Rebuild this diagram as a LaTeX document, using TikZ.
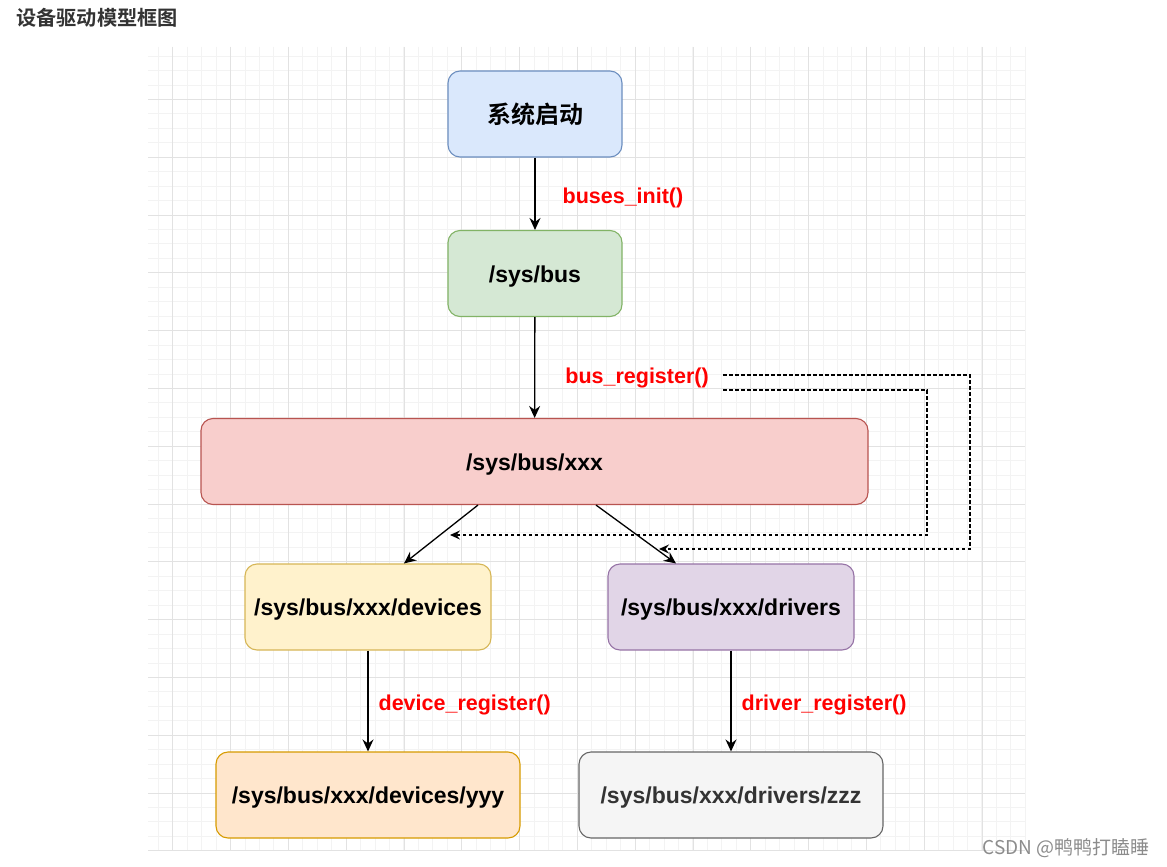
\documentclass[tikz,border=0pt]{standalone}
\usepackage{fontspec}
\setmainfont{Liberation Sans}
\newfontfamily\cjk{Noto Sans CJK SC}[BoldFont={Noto Sans CJK SC Bold}]
\usetikzlibrary{arrows.meta}
\definecolor{gridmajor}{HTML}{E2E2E2}
\definecolor{gridminor}{HTML}{F3F3F3}
\definecolor{startfill}{HTML}{DAE8FC}\definecolor{startline}{HTML}{6C8EBF}
\definecolor{busfill}{HTML}{D5E8D4}\definecolor{busline}{HTML}{82B366}
\definecolor{xxxfill}{HTML}{F8CECC}\definecolor{xxxline}{HTML}{B85450}
\definecolor{devfill}{HTML}{FFF2CC}\definecolor{devline}{HTML}{D6B656}
\definecolor{drvfill}{HTML}{E1D5E7}\definecolor{drvline}{HTML}{9673A6}
\definecolor{yyyfill}{HTML}{FFE6CC}\definecolor{yyyline}{HTML}{D79B00}
\definecolor{zzzfill}{HTML}{F5F5F5}\definecolor{zzzline}{HTML}{666666}
\tikzset{
    box/.style={draw, rounded corners=12pt, line width=1.1pt, minimum height=86pt},
    path/.style={box, text height=17pt, text depth=0pt,
        font=\fontsize{23}{26}\selectfont\bfseries},
    call/.style={anchor=west, text=red, inner sep=0pt, yshift=-2pt,
        font=\fontsize{21.5}{24}\selectfont\bfseries},
    arr/.style={-{Stealth[length=12pt,width=11pt,inset=4pt]}, line width=1.3pt},
    back/.style={-{Stealth[length=10pt,width=9pt,inset=3.5pt]}, line width=1.3pt,
        dash pattern=on 3.5pt off 2.5pt}
}

\begin{document}
\begin{tikzpicture}[x=1pt, y=-1pt]
    \useasboundingbox (0,0) rectangle (1167,867);
    \fill[white] (0,0) rectangle (1167,867);
    \foreach \i in {0,...,60}
        \draw[gridminor, line width=0.8pt] (158.2+14.45*\i,47) -- (158.2+14.45*\i,850);
    \foreach \j in {0,...,54}
        \draw[gridminor, line width=0.8pt] (148,56+14.45*\j) -- (1025,56+14.45*\j);
    \foreach \i in {0,...,14}
        \draw[gridmajor, line width=0.8pt] (172.7+57.8*\i,47) -- (172.7+57.8*\i,850);
    \foreach \j in {0,...,13}
        \draw[gridmajor, line width=0.8pt] (148,99.3+57.8*\j) -- (1025,99.3+57.8*\j);

    \node[anchor=west, text=black!80, inner sep=0pt, font=\cjk\bfseries\fontsize{20.2}{23}\selectfont] (title) at (16,18) {设备驱动模型框图};

    \node[box, fill=startfill, draw=startline, minimum width=174pt, font=\cjk\bfseries\fontsize{24}{26}\selectfont] (start) at (535,114) {系统启动};
    \node[path, fill=busfill, draw=busline, minimum width=174pt] (bus) at (535,273.5) {/sys/bus};
    \node[path, fill=xxxfill, draw=xxxline, minimum width=667pt] (xxx) at (534.5,461.5) {/sys/bus/xxx};
    \node[path, fill=devfill, draw=devline, minimum width=246pt] (dev) at (368,607) {/sys/bus/xxx/devices};
    \node[path, fill=drvfill, draw=drvline, minimum width=246pt] (drv) at (731,607) {/sys/bus/xxx/drivers};
    \node[path, fill=yyyfill, draw=yyyline, minimum width=304pt] (yyy) at (368,795) {/sys/bus/xxx/devices/yyy};
    \node[path, fill=zzzfill, draw=zzzline, minimum width=304pt, text=black!80] (zzz) at (731,795) {/sys/bus/xxx/drivers/zzz};

    \draw[arr] (start) -- (bus) node[call, pos=0.53, xshift=27pt] (init) {buses\_init()};
    \draw[arr] (bus) -- (xxx) node[call, pos=0.58, xshift=30pt] (busreg) {bus\_register()};
    \draw[arr] ([xshift=-56.5pt]xxx.south) -- ([xshift=36pt]dev.north);
    \draw[arr] ([xshift=61.5pt]xxx.south) -- ([xshift=-55pt]drv.north);
    \draw[arr] (dev) -- (yyy) node[call, pos=0.52, xshift=10pt] (devreg) {device\_register()};
    \draw[arr] (drv) -- (zzz) node[call, pos=0.52, xshift=10pt] (drvreg) {driver\_register()};

    \coordinate (inner) at (723,390);
    \coordinate (outer) at (723,375);
    \coordinate (devin) at (450,535);
    \coordinate (drvin) at (659,549);
    \draw[back] (inner) -- (927,390) -- (927,535) -- (devin);
    \draw[back] (outer) -- (970,375) -- (970,549) -- (drvin);

    \node[text=black!45, inner sep=0pt, font=\cjk\fontsize{19}{22}\selectfont] (mark) at (1066,848) {CSDN @鸭鸭打瞌睡};
\end{tikzpicture}
\end{document}
